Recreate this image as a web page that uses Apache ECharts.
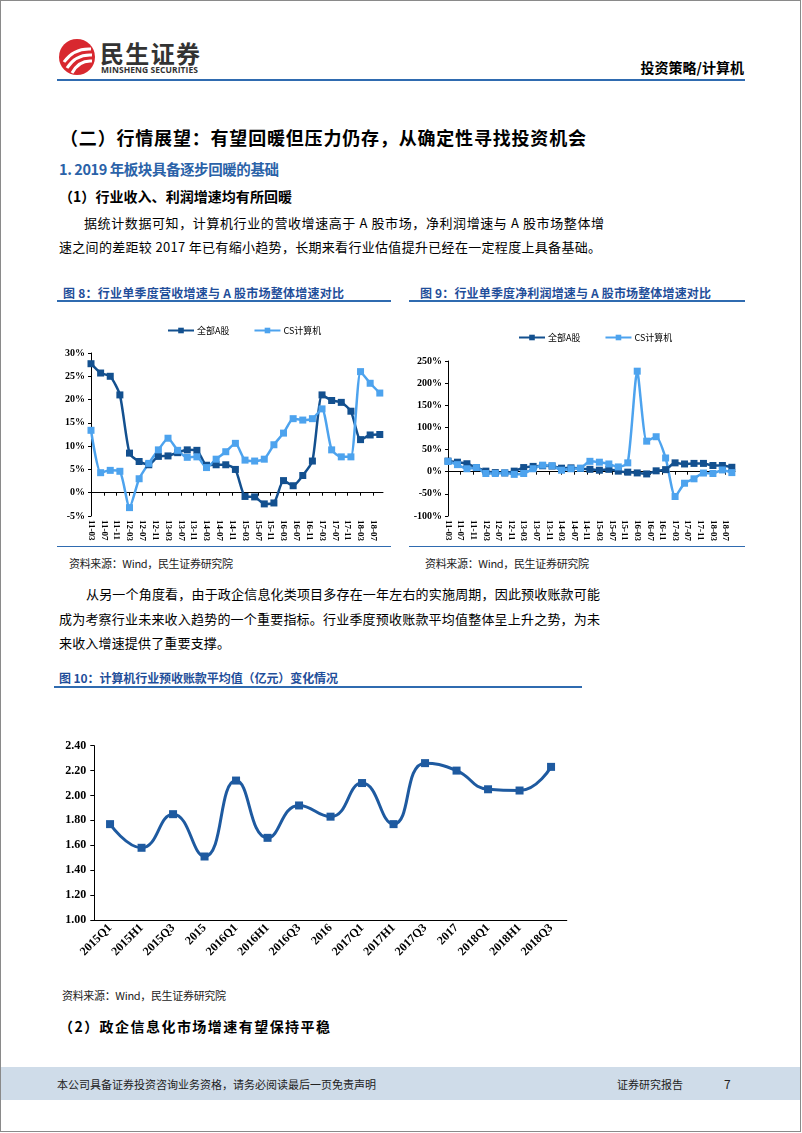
<!DOCTYPE html>
<html><head><meta charset="utf-8">
<script src="https://cdn.jsdelivr.net/npm/echarts@6/dist/echarts.min.js"></script>
<style>
html,body{margin:0;padding:0;background:#fff;}
#page{position:relative;width:802px;height:1133px;overflow:hidden;font-family:"Noto Sans CJK SC",sans-serif;color:#000;}
.t{position:absolute;white-space:nowrap;}
.hl{position:absolute;}
</style></head>
<body><div id="page">
<div style="position:absolute;left:0;top:0;width:799px;height:1130px;border:1px solid #8a8a8a;"></div>
<!-- header -->
<svg style="position:absolute;left:58px;top:38px" width="40" height="40" viewBox="0 0 40 40">
 <circle cx="19" cy="19" r="18" fill="#D8282F"/>
 <path d="M6 24 Q16 10 33 11" stroke="#fff" stroke-width="3" fill="none"/>
 <path d="M9 30 Q18 16 34 17" stroke="#fff" stroke-width="3" fill="none"/>
 <path d="M14 35 Q21 22 34 23" stroke="#fff" stroke-width="3" fill="none"/>
</svg>
<div class="t fit" data-w="100" style="left:100px;top:40px;font-size:24px;line-height:26px;font-weight:700;color:#333;">民生证券</div>
<div class="t fit" data-w="97" style="left:101px;top:65px;font-size:8.5px;line-height:10px;font-weight:700;color:#333;font-family:'Open Sans',sans-serif;">MINSHENG SECURITIES</div>
<div class="t" style="left:640px;top:59px;width:104px;text-align:right;font-size:14px;line-height:16px;font-weight:700;">投资策略/计算机</div>
<div class="hl" style="left:57px;top:79px;width:688px;height:2px;background:#2F6BB0;"></div>
<!-- titles -->
<div class="t fit" data-w="526" style="left:60px;top:126px;font-size:18px;line-height:22px;font-weight:700;">（二）行情展望：有望回暖但压力仍存，从确定性寻找投资机会</div>
<div class="t fit" data-w="220" style="left:59px;top:160px;font-size:14.5px;line-height:18px;font-weight:700;color:#2A62A8;">1. 2019 年板块具备逐步回暖的基础</div>
<div class="t fit" data-w="233" style="left:59px;top:187px;font-size:14px;line-height:18px;font-weight:700;">（1）行业收入、利润增速均有所回暖</div>
<div class="t fit" data-w="520" style="left:84px;top:214px;font-size:13px;line-height:17px;">据统计数据可知，计算机行业的营收增速高于 A 股市场，净利润增速与 A 股市场整体增</div>
<div class="t fit" data-w="542" style="left:59px;top:238px;font-size:13px;line-height:17px;">速之间的差距较 2017 年已有缩小趋势，长期来看行业估值提升已经在一定程度上具备基础。</div>
<!-- fig 8/9 titles -->
<div class="t fit" data-w="281" style="left:63px;top:285px;font-size:12px;line-height:15px;font-weight:700;color:#1F4E9A;">图 8：行业单季度营收增速与 A 股市场整体增速对比</div>
<div class="hl" style="left:57px;top:300px;width:334px;height:2px;background:#2F6BB0;"></div>
<div class="t fit" data-w="291" style="left:420px;top:285px;font-size:12px;line-height:15px;font-weight:700;color:#1F4E9A;">图 9：行业单季度净利润增速与 A 股市场整体增速对比</div>
<div class="hl" style="left:409px;top:300px;width:336px;height:2px;background:#2F6BB0;"></div>
<div id="c8" style="position:absolute;left:40px;top:310px;width:360px;height:234px;"></div>
<div id="c9" style="position:absolute;left:405px;top:310px;width:345px;height:234px;"></div>
<div class="hl" style="left:57px;top:546px;width:334px;height:1px;background:#2F6BB0;"></div>
<div class="hl" style="left:409px;top:546px;width:336px;height:1px;background:#2F6BB0;"></div>
<div class="t fit" data-w="164" style="left:69px;top:556px;font-size:11px;line-height:14px;color:#222;">资料来源：Wind，民生证券研究院</div>
<div class="t fit" data-w="164" style="left:425px;top:556px;font-size:11px;line-height:14px;color:#222;">资料来源：Wind，民生证券研究院</div>
<!-- paragraph 2 -->
<div class="t fit" data-w="514" style="left:86px;top:585px;font-size:13px;line-height:17px;">从另一个角度看，由于政企信息化类项目多存在一年左右的实施周期，因此预收账款可能</div>
<div class="t fit" data-w="541" style="left:59px;top:610px;font-size:13px;line-height:17px;">成为考察行业未来收入趋势的一个重要指标。行业季度预收账款平均值整体呈上升之势，为未</div>
<div class="t fit" data-w="171" style="left:59px;top:634px;font-size:13px;line-height:17px;">来收入增速提供了重要支撑。</div>
<div class="t fit" data-w="279" style="left:59px;top:670px;font-size:12px;line-height:15px;font-weight:700;color:#1F4E9A;">图 10：计算机行业预收账款平均值（亿元）变化情况</div>
<div class="hl" style="left:54px;top:686px;width:528px;height:2px;background:#2F6BB0;"></div>
<div id="c10" style="position:absolute;left:30px;top:730px;width:560px;height:252px;"></div>
<div class="t fit" data-w="164" style="left:62px;top:988px;font-size:11px;line-height:14px;color:#222;">资料来源：Wind，民生证券研究院</div>
<div class="t fit" data-w="271" style="left:59px;top:1017px;font-size:14px;line-height:18px;font-weight:700;">（2）政企信息化市场增速有望保持平稳</div>
<!-- footer -->
<div class="hl" style="left:1px;top:1067px;width:799px;height:33px;background:#CFDCE9;"></div>
<div class="t" style="left:57px;top:1077px;font-size:11px;line-height:15px;color:#222;">本公司具备证券投资咨询业务资格，请务必阅读最后一页免责声明</div>
<div class="t" style="left:617px;top:1077px;font-size:11px;line-height:15px;color:#222;">证券研究报告</div>
<div class="t" style="left:724px;top:1076px;font-size:12px;line-height:15px;color:#222;">7</div>
</div>
<script>
// ---------- data ----------
const quarters = ["11-03","11-06","11-09","11-12","12-03","12-06","12-09","12-12","13-03","13-06","13-09","13-12",
 "14-03","14-06","14-09","14-12","15-03","15-06","15-09","15-12","16-03","16-06","16-09","16-12",
 "17-03","17-06","17-09","17-12","18-03","18-06","18-09"];
const tickLabels = ["11-03","11-07","11-11","12-03","12-07","12-11","13-03","13-07","13-11","14-03","14-07","14-11",
 "15-03","15-07","15-11","16-03","16-07","16-11","17-03","17-07","17-11","18-03","18-07"];
const seriesNames = ["全部A股","CS计算机"];
const revAll = [27.7,25.7,25.0,21.0,8.5,6.7,6.0,7.8,7.9,8.6,9.2,9.1,5.9,6.0,6.0,5.0,-0.8,-0.9,-2.4,-2.2,2.6,1.5,3.7,6.8,21.0,19.8,19.4,17.5,11.4,12.4,12.5];
const revCS  = [13.4,4.3,4.8,4.6,-3.2,3.0,6.3,9.2,11.7,9.1,7.6,7.7,5.4,7.2,8.8,10.6,7.0,6.8,7.2,10.3,12.8,15.9,15.6,15.9,18.0,9.2,7.7,7.7,26.0,23.5,21.4];
const profAll = [24,21.5,18.0,9.4,1.3,-2.0,-2.7,1.3,9.4,12.0,13.4,12.8,8.0,8.7,7.4,5.4,3.4,5.4,1.3,-1.0,-2.7,-5.0,2.0,4.7,20.0,17.5,18.8,18.8,14.0,14.0,10.0];
const profCS  = [23,16,6.7,9.4,-4,-4,-2.7,-6,-4,6.7,14.8,13.4,3.4,6.7,8,23.5,21.5,17.5,10.8,20,227,69,79,31,-56,-26,-16,-3,-4,4,-2];
const periods = ["2015Q1","2015H1","2015Q3","2015","2016Q1","2016H1","2016Q3","2016","2017Q1","2017H1","2017Q3","2017","2018Q1","2018H1","2018Q3"];
const advance = [1.77,1.58,1.85,1.51,2.12,1.66,1.92,1.83,2.10,1.77,2.26,2.20,2.05,2.04,2.23];

// ---------- text fitting (letter-spacing to reach measured width) ----------
document.querySelectorAll('.fit').forEach(el=>{
  const target = parseFloat(el.dataset.w);
  const n = el.textContent.length;
  const w = el.getBoundingClientRect().width;
  if (n > 1) el.style.letterSpacing = ((target - w) / (n - 1)) + 'px';
});

// ---------- helpers ----------
const DARK = '#13508F', LIGHT = '#4DA3EE';
const serif = "'Liberation Serif','Times New Roman',serif";
function monthIdx(lbl){ const p = lbl.split('-').map(Number); return (p[0]-11)*12 + (p[1]-3); }
function pairs(vals){ return quarters.map((q,i)=>[monthIdx(q), vals[i]]); }
function lineSeries(name, vals, color){
  return {name, type:'line', data:pairs(vals), symbol:'rect', symbolSize:7, smooth:0.2,
    lineStyle:{width:2.5,color}, itemStyle:{color}, emphasis:{disabled:true}};
}
function xAxisMonths(){
  return {type:'value', min:0, max:91, interval:4,
    axisLine:{onZero:true, lineStyle:{color:'#000',width:1}},
    axisTick:{show:true,length:3,lineStyle:{color:'#000'}},
    splitLine:{show:false},
    axisLabel:{rotate:-90, margin:4, color:'#000', fontFamily:serif, fontWeight:'bold', fontSize:9,
      showMaxLabel:false, formatter:v=> (v%4===0 && tickLabels[v/4]) ? tickLabels[v/4] : ''}};
}
function yAxisPct(min,max,interval){
  return {type:'value', min, max, interval,
    axisLine:{show:true, lineStyle:{color:'#000',width:1}},
    axisTick:{show:true,length:3,lineStyle:{color:'#000'}},
    splitLine:{show:false},
    axisLabel:{formatter:'{value}%', margin:6, color:'#000', fontFamily:serif, fontWeight:'bold', fontSize:10}};
}
function legend(left, top, gap){
  return {left, top, itemWidth:26, itemHeight:7, itemGap:gap, data:seriesNames,
    textStyle:{fontSize:9, color:'#000', fontFamily:"'Noto Sans CJK SC',sans-serif", padding:[0,0,0,-2]}};
}

// ---------- chart 8 ----------
const c8 = echarts.init(document.getElementById('c8'), null, {renderer:'canvas'});
c8.setOption({animation:false,
  legend: legend(122, 11, 24),
  grid:{left:51, top:43, width:292, height:169, containLabel:false},
  xAxis: xAxisMonths(),
  yAxis: yAxisPct(-5,30,5),
  series:[lineSeries(seriesNames[0], revAll, DARK), lineSeries(seriesNames[1], revCS, LIGHT)]
});

// ---------- chart 9 ----------
const c9 = echarts.init(document.getElementById('c9'), null, {renderer:'canvas'});
c9.setOption({animation:false,
  legend: legend(108, 18, 24),
  grid:{left:43, top:51, width:287, height:173.6, containLabel:false},
  xAxis: xAxisMonths(),
  yAxis: yAxisPct(-100,250,50),
  series:[lineSeries(seriesNames[0], profAll, DARK), lineSeries(seriesNames[1], profCS, LIGHT)]
});

// ---------- chart 10 ----------
const c10 = echarts.init(document.getElementById('c10'), null, {renderer:'canvas'});
c10.setOption({animation:false,
  grid:{left:64.3, top:15.7, width:472.5, height:174.3, containLabel:false},
  xAxis:{type:'category', data:periods, boundaryGap:true,
    axisLine:{lineStyle:{color:'#000'}}, axisTick:{length:4, lineStyle:{color:'#000'}},
    axisLabel:{rotate:45, interval:0, margin:6, color:'#000', fontFamily:serif, fontWeight:'bold', fontSize:12}},
  yAxis:{type:'value', min:1, max:2.4, interval:0.2,
    axisLine:{show:true, lineStyle:{color:'#000'}}, axisTick:{show:true, length:4, lineStyle:{color:'#000'}},
    splitLine:{show:false},
    axisLabel:{formatter:v=>v.toFixed(2), margin:8, color:'#000', fontFamily:serif, fontWeight:'bold', fontSize:12}},
  series:[{type:'line', data:advance, smooth:0.5, symbol:'rect', symbolSize:8,
    lineStyle:{width:3,color:'#1E5AA0'}, itemStyle:{color:'#1E5AA0'}}]
});
</script>
</body></html>
